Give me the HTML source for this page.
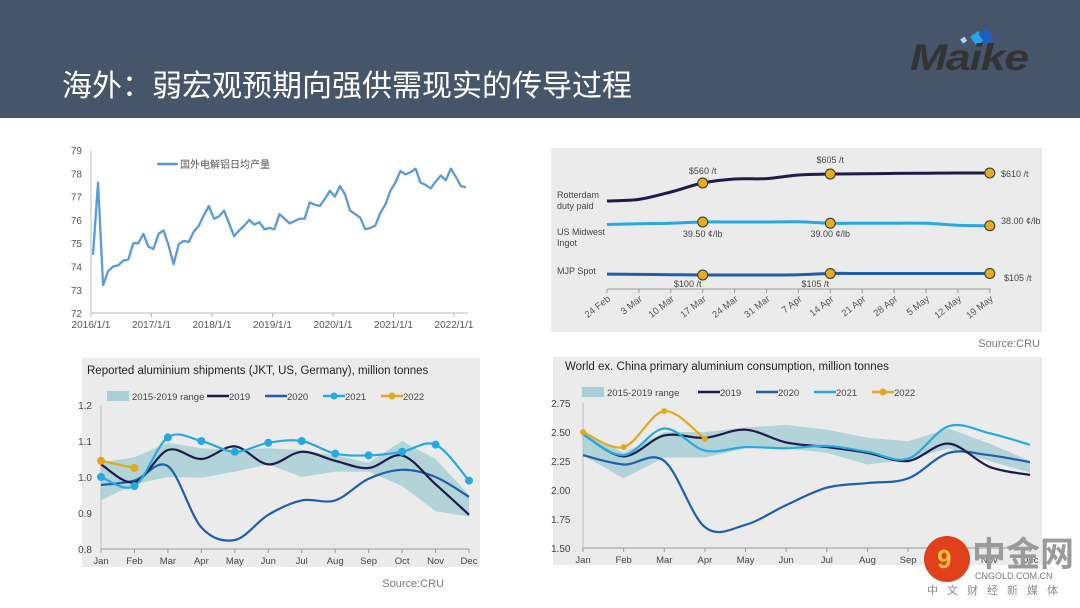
<!DOCTYPE html>
<html><head><meta charset="utf-8"><style>
html,body{margin:0;padding:0;background:#fff;}
svg{display:block;font-family:"Liberation Sans","Noto Sans CJK SC",sans-serif;}
</style></head><body>
<svg id="s" width="1080" height="608" viewBox="0 0 1080 608" xmlns="http://www.w3.org/2000/svg">
<rect x="0" y="0" width="1080" height="118" fill="#465569"/>
<text x="62" y="96" font-size="30" fill="#fff" font-family="'Noto Sans CJK SC',sans-serif">海外：弱宏观预期向强供需现实的传导过程</text>
<g>
<rect x="961" y="38" width="5" height="5" fill="#a9d8f5" transform="rotate(-35 963 40)"/>
<rect x="972" y="33" width="10" height="11" fill="#2aa3e8" transform="rotate(-35 977 38)"/>
<rect x="981" y="30" width="10" height="13" fill="#1d5fc2" transform="rotate(-35 986 36)"/>
<text x="910" y="70" font-size="37" font-weight="bold" font-style="italic" fill="#333" letter-spacing="-1" textLength="118" lengthAdjust="spacingAndGlyphs">Maike</text>
</g>
<g id="c1"></g>
<g id="c2"></g>
<g id="c3"></g>
<g id="c4"></g>
<g>
<circle cx="947" cy="559" r="23" fill="#e0401c"/>
<text x="937" y="568" font-size="26" font-weight="bold" fill="#f5c040">9</text>
<text x="972" y="566" font-size="34" font-weight="bold" fill="#9a9a9a" font-family="'Noto Sans CJK SC',sans-serif">中金网</text>
<text x="975" y="579" font-size="9" fill="#777">CNGOLD.COM.CN</text>
<text x="927" y="594" font-size="11" fill="#888" letter-spacing="9" font-family="'Noto Sans CJK SC',sans-serif">中文财经新媒体</text>
</g>
</svg>
<script>
// ---- Chart 1 data
const c1Start = "2016/1";
const c1Values = [74.5,77.6,73.2,73.8,74.0,74.05,74.25,74.3,75.0,75.0,75.4,74.85,74.75,75.4,75.55,74.9,74.1,74.95,75.1,75.05,75.5,75.75,76.2,76.6,76.05,76.15,76.4,75.85,75.3,75.55,75.75,76.0,75.8,75.9,75.6,75.65,75.6,76.25,76.05,75.85,75.95,76.05,76.05,76.75,76.65,76.6,76.9,77.25,77.0,77.45,77.1,76.4,76.25,76.1,75.6,75.65,75.75,76.3,76.65,77.25,77.6,78.1,77.95,78.05,78.2,77.6,77.5,77.35,77.65,77.9,77.7,78.2,77.85,77.45,77.4];
const c1YTicks = [72,73,74,75,76,77,78,79];
const c1XTicks = ["2016/1/1","2017/1/1","2018/1/1","2019/1/1","2020/1/1","2021/1/1","2022/1/1"];
// ---- Chart 2 data
const c2Weeks = ["24 Feb","3 Mar","10 Mar","17 Mar","24 Mar","31 Mar","7 Apr","14 Apr","21 Apr","28 Apr","5 May","12 May","19 May"];
const c2Rotterdam = [470,478,515,560,580,582,600,605,606,608,609,610,610];
const c2Midwest = [38.5,38.8,39.0,39.5,39.5,39.5,39.6,39.0,39.0,39.0,39.0,38.2,38.0];
const c2MJP = [103,102,101,100,100,100,101,105,105,105,105,105,105];
const c2Marks = [3,7,12];
// ---- Chart 3 data
const months = ["Jan","Feb","Mar","Apr","May","Jun","Jul","Aug","Sep","Oct","Nov","Dec"];
const c3Low = [0.935,0.98,1.0,0.998,1.015,1.035,1.0,1.015,1.015,0.975,0.905,0.89];
const c3High = [1.04,1.055,1.095,1.08,1.075,1.08,1.075,1.06,1.04,1.1,1.05,0.95];
const c3Y2019 = [1.035,0.985,1.075,1.05,1.085,1.035,1.07,1.045,1.025,1.06,0.98,0.895];
const c3Y2020 = [0.978,0.99,1.03,0.86,0.825,0.895,0.935,0.935,0.995,1.02,1.0,0.945];
const c3Y2021 = [1.0,0.975,1.11,1.1,1.07,1.095,1.1,1.065,1.06,1.07,1.09,0.99];
const c3Y2022 = [1.045,1.025];
const c3YTicks = [0.8,0.9,1.0,1.1,1.2];
// ---- Chart 4 data
const c4Low = [2.3,2.1,2.28,2.28,2.36,2.36,2.32,2.22,2.26,2.36,2.25,2.15];
const c4High = [2.5,2.32,2.5,2.5,2.54,2.56,2.52,2.45,2.42,2.53,2.4,2.25];
const c4Y2019 = [2.48,2.29,2.47,2.45,2.52,2.41,2.37,2.32,2.25,2.4,2.2,2.13];
const c4Y2020 = [2.3,2.22,2.25,1.68,1.7,1.87,2.02,2.06,2.1,2.32,2.3,2.24];
const c4Y2021 = [2.48,2.3,2.53,2.34,2.37,2.36,2.38,2.33,2.27,2.55,2.49,2.39];
const c4Y2022 = [2.5,2.37,2.68,2.44];
const c4YTicks = [1.5,1.75,2.0,2.25,2.5,2.75];

const NS="http://www.w3.org/2000/svg";
function el(p,tag,attrs,txt){const e=document.createElementNS(NS,tag);for(const k in attrs)e.setAttribute(k,attrs[k]);if(txt!==undefined)e.textContent=txt;p.appendChild(e);return e;}
function smooth(pts){if(pts.length<2)return "";let d="M"+pts[0][0]+","+pts[0][1];for(let i=0;i<pts.length-1;i++){const p0=pts[i-1]||pts[i],p1=pts[i],p2=pts[i+1],p3=pts[i+2]||p2;const t=6;d+=" C"+(p1[0]+(p2[0]-p0[0])/t)+","+(p1[1]+(p2[1]-p0[1])/t)+" "+(p2[0]-(p3[0]-p1[0])/t)+","+(p2[1]-(p3[1]-p1[1])/t)+" "+p2[0]+","+p2[1];}return d;}

// ===== Chart 1
(function(){
const g=document.getElementById('c1');
const x=i=>93+i*5.04, y=v=>150+(79-v)*23.3;
el(g,'line',{x1:91,y1:150,x2:91,y2:313,stroke:'#bbb'});
el(g,'line',{x1:91,y1:313,x2:468,y2:313,stroke:'#bbb'});
c1YTicks.forEach(v=>{const t=el(g,'text',{x:82,y:y(v)+4,'font-size':10,fill:'#555','text-anchor':'end'},v);});
c1XTicks.forEach((s,i)=>{const xx=91+i*60.5;el(g,'line',{x1:xx,y1:313,x2:xx,y2:317,stroke:'#bbb'});const t=el(g,'text',{x:xx,y:328,'font-size':10,fill:'#555','text-anchor':'middle'},s);});
const p=el(g,'polyline',{points:c1Values.map((v,i)=>x(i)+','+y(v)).join(' '),fill:'none',stroke:'#5b9bd5','stroke-width':2.3,'stroke-linejoin':'round'});

el(g,'line',{x1:157,y1:164,x2:178,y2:164,stroke:'#5b9bd5','stroke-width':2.5});
const l=el(g,'text',{x:180,y:168,'font-size':10,fill:'#555','font-family':"'Noto Sans CJK SC',sans-serif"},'国外电解铝日均产量');

})();

// ===== Chart 2
(function(){
const g=document.getElementById('c2');
el(g,'rect',{x:551,y:148,width:491,height:184,fill:'#ebebeb'});
const x=i=>607+i*31.9;
const yr=v=>183-(v-560)*0.2, ym=v=>222+(39.5-v)*2.5, yj=v=>275-(v-100)*0.3;
el(g,'line',{x1:607,y1:289,x2:991,y2:289,stroke:'#999'});
c2Weeks.forEach((w,i)=>{el(g,'line',{x1:x(i),y1:289,x2:x(i),y2:293,stroke:'#999'});const t=el(g,'text',{x:x(i)+4,y:300,'font-size':9.5,fill:'#555','text-anchor':'end',transform:'rotate(-38 '+(x(i)+4)+' 300)'},w);});
const series=[[c2Rotterdam,yr,'#1e1b4b',3,'rotterdam-line'],[c2Midwest,ym,'#26a9e0',3,'us-midwest-line'],[c2MJP,yj,'#1f5ea8',3,'mjp-line']];
series.forEach(s=>{const p=el(g,'path',{d:smooth(s[0].map((v,i)=>[x(i),s[1](v)])),fill:'none',stroke:s[2],'stroke-width':s[3]});
c2Marks.forEach(i=>{const c=el(g,'circle',{cx:x(i),cy:s[1](s[0][i]),r:5,fill:'#e5ac1c',stroke:'#333','stroke-width':1});});});
const lab=(tx,xx,yy,a)=>el(g,'text',{x:xx,y:yy,'font-size':9,fill:'#444','text-anchor':a||'middle'},tx);
lab('$'+c2Rotterdam[3]+' /t',x(3),174);lab('$'+c2Rotterdam[7]+' /t',x(7),163);lab('$'+c2Rotterdam[12]+' /t',1001,177,'start');
lab(c2Midwest[3].toFixed(2)+' ¢/lb',x(3),237);lab(c2Midwest[7].toFixed(2)+' ¢/lb',x(7),237);lab(c2Midwest[12].toFixed(2)+' ¢/lb',1001,224,'start');
lab('$'+c2MJP[3]+' /t',x(3)-15,287);lab('$'+c2MJP[7]+' /t',x(7)-15,287);lab('$'+c2MJP[12]+' /t',1004,281,'start');
el(g,'text',{x:557,y:198,'font-size':9,fill:'#444'},'Rotterdam');el(g,'text',{x:557,y:209,'font-size':9,fill:'#444'},'duty paid');
el(g,'text',{x:557,y:235,'font-size':9,fill:'#444'},'US Midwest');el(g,'text',{x:557,y:246,'font-size':9,fill:'#444'},'Ingot');
el(g,'text',{x:557,y:274,'font-size':9,fill:'#444'},'MJP Spot');
el(g,'text',{x:1040,y:347,'font-size':11,fill:'#777','text-anchor':'end'},'Source:CRU');
})();

function bandChart(g,opt){
const x=i=>opt.x0+i*(opt.x1-opt.x0)/11, y=v=>opt.yTop+(opt.vTop-v)*(opt.yBot-opt.yTop)/(opt.vTop-opt.vBot);
el(g,'rect',{x:opt.px,y:opt.py,width:opt.pw,height:opt.ph,fill:'#ebebeb'});
el(g,'text',{x:opt.tx,y:opt.ty,'font-size':11.5,fill:'#222'},opt.title);
const band=el(g,'polygon',{points:opt.low.map((v,i)=>x(i)+','+y(v)).concat(opt.high.map((v,i)=>x(i)+','+y(v)).reverse()).join(' '),fill:'#a8d0d6',opacity:0.85});

el(g,'line',{x1:opt.x0,y1:opt.yBot,x2:opt.x1,y2:opt.yBot,stroke:'#999'});
el(g,'line',{x1:opt.x0,y1:opt.yTop,x2:opt.x0,y2:opt.yBot,stroke:'#bbb'});
opt.yTicks.forEach(v=>{const t=el(g,'text',{x:opt.ylx,y:y(v)+4,'font-size':10,fill:'#444','text-anchor':opt.yla},opt.fmt(v));});
months.forEach((m,i)=>{el(g,'line',{x1:x(i),y1:opt.yBot,x2:x(i),y2:opt.yBot+4,stroke:'#999'});const t=el(g,'text',{x:x(i),y:opt.yBot+15,'font-size':9.5,fill:'#444','text-anchor':'middle'},m);});
opt.series.forEach(s=>{const pts=s.data.map((v,i)=>[x(i),y(v)]);const p=el(g,'path',{d:smooth(pts),fill:'none',stroke:s.c,'stroke-width':2.2});
if(s.dots)pts.forEach(q=>{const c=el(g,'circle',{cx:q[0],cy:q[1],r:s.dots,fill:s.c});});});
let lx=opt.lx;const ly=opt.ly;
el(g,'rect',{x:lx,y:ly-5,width:22,height:10,fill:'#a8d0d6'});el(g,'text',{x:lx+25,y:ly+4,'font-size':9.5,fill:'#444'},'2015-2019 range');lx+=opt.lsp[0];
[['#1e1b4b','2019',0],['#1f5ea8','2020',0],['#26a9e0','2021',opt.l21],['#e0a81e','2022',1]].forEach((l,i)=>{el(g,'line',{x1:lx,y1:ly,x2:lx+22,y2:ly,stroke:l[0],'stroke-width':2.5});if(l[2])el(g,'circle',{cx:lx+11,cy:ly,r:3.5,fill:l[0]});const t=el(g,'text',{x:lx+22,y:ly+4,'font-size':9.5,fill:'#444'},l[1]);lx+=opt.lsp[1];});
}
bandChart(document.getElementById('c3'),{px:82,py:358,pw:398,ph:209,tx:87,ty:374,title:'Reported aluminium shipments (JKT, US, Germany), million tonnes',
x0:101,x1:469,yTop:405,yBot:549,vTop:1.2,vBot:0.8,yTicks:c3YTicks,fmt:v=>v.toFixed(1),ylx:92,yla:'end',low:c3Low,high:c3High,
series:[{data:c3Y2020,c:'#1f5ea8',n:'line-2020'},{data:c3Y2019,c:'#1e1b4b',n:'line-2019'},{data:c3Y2021,c:'#26a9e0',n:'line-2021',dots:4},{data:c3Y2022,c:'#e0a81e',n:'line-2022',dots:4}],
lx:107,ly:396,lsp:[100,58],l21:1});
bandChart(document.getElementById('c4'),{px:553,py:357,pw:489,ph:208,tx:565,ty:370,title:'World ex. China primary aluminium consumption, million tonnes',
x0:583,x1:1030,yTop:403,yBot:548,vTop:2.75,vBot:1.5,yTicks:c4YTicks,fmt:v=>v.toFixed(2),ylx:551,yla:'start',low:c4Low,high:c4High,
series:[{data:c4Y2020,c:'#1f5ea8',n:'line-2020'},{data:c4Y2019,c:'#1e1b4b',n:'line-2019'},{data:c4Y2021,c:'#26a9e0',n:'line-2021'},{data:c4Y2022,c:'#e0a81e',n:'line-2022',dots:3}],
lx:582,ly:392,lsp:[116,58],l21:0});
el(document.getElementById('c3'),'text',{x:444,y:587,'font-size':11,fill:'#777','text-anchor':'end'},'Source:CRU');
</script>
</body></html>
